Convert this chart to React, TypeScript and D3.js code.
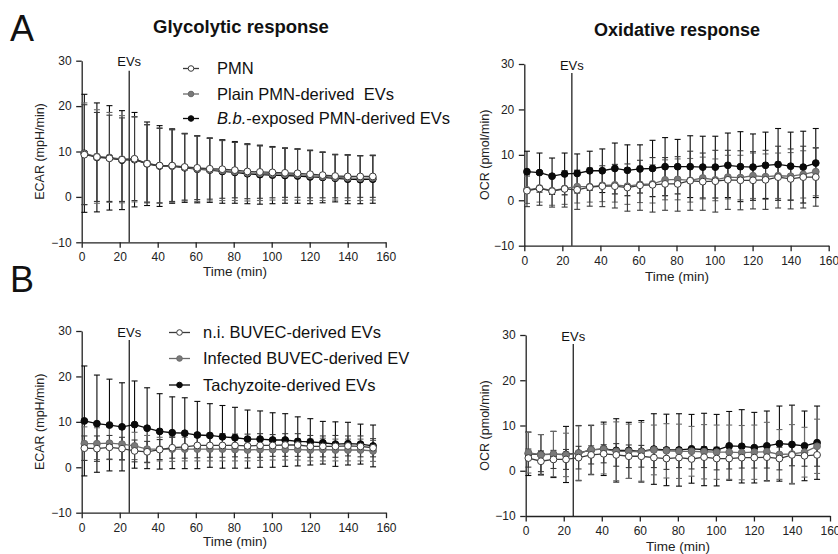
import React, { useRef, useEffect } from "react";
import * as d3 from "d3";

// measurement times (min), shared by all panels
const times = [1.4, 8.0, 14.6, 21.2, 27.8, 34.4, 41.0, 47.6, 54.2, 60.8, 67.4, 74.0, 80.6, 87.2, 93.8, 100.4, 107.0, 113.6, 120.2, 126.8, 133.4, 140.0, 146.6, 153.2];
const xTicks = [0, 20, 40, 60, 80, 100, 120, 140, 160];
const yTicks = [-10, 0, 10, 20, 30];
const evTime = 25;

// A - glycolytic (ECAR)
const ecarPmn = [9.3, 8.8, 8.5, 8.2, 8.4, 7.3, 6.9, 6.9, 6.6, 6.4, 6.2, 6.1, 5.9, 5.6, 5.5, 5.4, 5.3, 5.2, 5.0, 4.8, 4.6, 4.5, 4.5, 4.5];
const ecarPmnSd = [11.0, 9.8, 9.5, 9.2, 9.2, 8.6, 8.2, 7.9, 7.3, 7.0, 6.7, 6.4, 6.1, 6.0, 5.8, 5.6, 5.4, 5.3, 5.2, 5.0, 4.8, 4.7, 4.6, 4.6];
const ecarPlain = [9.5, 8.9, 8.7, 8.3, 8.3, 7.4, 6.9, 6.8, 6.5, 6.2, 6.0, 5.8, 5.6, 5.3, 5.2, 5.1, 5.0, 4.9, 4.7, 4.5, 4.3, 4.2, 4.1, 4.2];
const ecarPlainSd = [11.2, 10.3, 9.9, 9.6, 9.4, 8.5, 8.3, 8.0, 7.4, 7.2, 6.9, 6.6, 6.4, 6.2, 6.0, 5.8, 5.7, 5.6, 5.5, 5.3, 5.0, 5.0, 4.9, 4.9];
const ecarBb = [9.6, 8.7, 8.6, 8.1, 8.2, 7.3, 6.8, 6.8, 6.4, 6.1, 5.9, 5.6, 5.4, 5.1, 4.9, 4.8, 4.7, 4.6, 4.4, 4.3, 4.1, 3.9, 3.8, 3.9];
const ecarBbSd = [13.0, 12.0, 11.5, 10.9, 10.4, 9.2, 8.9, 8.2, 7.6, 7.4, 7.1, 7.0, 6.8, 6.6, 6.5, 6.3, 6.1, 6.0, 5.9, 5.6, 5.2, 5.4, 5.3, 5.3];

// A - oxidative (OCR)
const ocrPmn = [2.1, 2.6, 2.0, 2.5, 2.3, 2.9, 3.1, 3.1, 2.8, 3.3, 3.4, 3.6, 3.6, 4.3, 4.1, 4.2, 4.5, 4.4, 4.4, 4.5, 5.1, 4.7, 5.1, 5.1];
const ocrPmnSd = [3.5, 3.7, 3.5, 4.0, 4.3, 4.2, 4.5, 4.8, 5.2, 5.5, 6.0, 5.8, 6.0, 6.5, 6.3, 6.8, 6.5, 6.5, 6.3, 6.5, 6.8, 6.6, 6.8, 6.4];
const ocrPlain = [2.3, 2.7, 2.1, 2.6, 3.0, 3.0, 3.3, 3.4, 3.1, 3.5, 3.6, 4.5, 4.6, 4.4, 4.9, 4.5, 5.1, 5.0, 5.4, 5.2, 5.4, 5.3, 5.7, 6.3];
const ocrPlainSd = [3.0, 3.1, 3.2, 3.5, 3.6, 3.4, 3.6, 3.8, 4.0, 4.0, 4.2, 4.4, 4.5, 4.8, 4.6, 4.6, 4.8, 4.9, 5.0, 5.0, 5.0, 5.2, 5.2, 5.3];
const ocrBb = [6.3, 6.1, 5.3, 5.8, 5.9, 6.5, 6.5, 7.0, 6.6, 6.9, 7.0, 7.4, 7.4, 7.4, 7.3, 7.3, 7.7, 7.4, 7.3, 7.7, 7.9, 7.5, 7.3, 8.2];
const ocrBbSd = [4.5, 4.3, 4.0, 4.6, 4.3, 4.3, 4.8, 5.6, 5.6, 5.3, 6.2, 6.4, 6.0, 6.8, 6.8, 6.8, 7.1, 7.7, 7.3, 7.3, 7.9, 7.5, 7.9, 7.6];

// B - glycolytic (ECAR)
const ecarNi = [4.2, 4.1, 4.4, 4.1, 3.6, 3.4, 3.9, 4.3, 4.5, 4.8, 4.8, 4.8, 4.8, 4.7, 4.8, 4.8, 4.9, 4.9, 4.6, 4.6, 4.6, 4.7, 4.6, 4.3];
const ecarNiSd = [2.7, 2.8, 2.6, 2.5, 2.4, 2.3, 2.2, 2.3, 2.5, 2.7, 2.6, 2.6, 2.5, 2.6, 2.6, 2.4, 2.5, 2.5, 2.4, 2.3, 2.4, 2.2, 2.3, 2.0];
const ecarInf = [5.2, 5.2, 5.3, 5.1, 4.7, 4.0, 4.0, 4.0, 4.0, 4.0, 4.0, 4.0, 3.9, 3.8, 3.9, 3.9, 3.9, 3.9, 3.8, 3.9, 3.8, 3.8, 3.8, 3.6];
const ecarInfSd = [3.7, 3.5, 3.6, 3.4, 3.0, 3.0, 2.6, 2.7, 2.6, 2.6, 2.6, 2.6, 2.5, 2.4, 2.4, 2.3, 2.3, 2.3, 2.4, 2.5, 2.4, 2.4, 2.4, 2.3];
const ecarTachy = [10.2, 9.6, 9.3, 8.9, 9.4, 8.6, 7.9, 7.6, 7.5, 7.1, 7.0, 6.7, 6.5, 6.2, 6.2, 6.0, 6.0, 5.7, 5.6, 5.4, 5.1, 5.2, 5.1, 4.7];
const ecarTachySd = [12.1, 10.7, 10.1, 9.7, 9.6, 8.9, 8.3, 7.9, 7.8, 7.4, 7.0, 6.9, 6.7, 6.4, 6.2, 6.0, 5.8, 5.4, 5.1, 4.7, 4.9, 4.7, 4.4, 4.6];

// B - oxidative (OCR)
const ocrNi = [2.8, 2.1, 2.5, 2.5, 2.9, 3.5, 3.75, 3.5, 3.2, 3.2, 2.9, 2.7, 2.9, 2.6, 3.0, 2.7, 2.7, 2.9, 2.9, 3.0, 2.7, 3.5, 3.3, 3.5];
const ocrNiSd = [2.0, 2.3, 2.0, 2.2, 2.5, 2.0, 2.0, 2.5, 2.5, 2.4, 2.2, 2.4, 2.2, 2.2, 2.3, 2.5, 2.3, 2.3, 2.3, 2.4, 2.5, 2.4, 2.3, 2.5];
const ocrInf = [4.0, 3.5, 3.7, 3.5, 3.9, 4.6, 4.8, 4.3, 4.3, 4.2, 4.6, 4.4, 4.3, 4.3, 4.2, 4.1, 4.1, 4.0, 4.1, 4.2, 3.6, 3.7, 4.1, 5.4];
const ocrInfSd = [4.5, 4.5, 5.0, 4.8, 6.0, 5.5, 5.5, 6.5, 6.0, 6.5, 5.5, 6.0, 6.0, 5.5, 6.0, 6.0, 6.0, 6.0, 6.0, 6.5, 5.5, 6.5, 5.5, 6.0];
const ocrTachy = [3.75, 3.6, 3.6, 3.6, 3.9, 4.6, 4.85, 4.5, 4.5, 4.3, 4.8, 4.6, 4.6, 4.85, 4.7, 4.55, 5.5, 5.4, 5.1, 5.5, 6.0, 5.8, 5.5, 6.2];
const ocrTachySd = [4.8, 4.4, 5.1, 6.2, 6.1, 5.4, 5.9, 7.0, 6.2, 6.8, 7.8, 7.9, 8.0, 7.6, 8.0, 7.9, 7.6, 8.1, 7.8, 7.7, 8.3, 8.7, 7.7, 8.1];

const legendA = ["PMN", "Plain PMN-derived  EVs", "B.b.-exposed PMN-derived EVs"];
const legendB = ["n.i. BUVEC-derived EVs", "Infected BUVEC-derived EV", "Tachyzoite-derived EVs"];

const STYLES = [
  { fill: "#ffffff", stroke: "#3a3a3a", err: "#3a3a3a" },
  { fill: "#7a7a7a", stroke: "#6a6a6a", err: "#6a6a6a" },
  { fill: "#0a0a0a", stroke: "#0a0a0a", err: "#0a0a0a" },
];
const FONT = "Liberation Sans, Arial, sans-serif";

type Series = { mean: number[]; sd: number[] };
type PanelCfg = {
  left: number; right: number; top: number; bottom: number;
  ylabel: string; ylabelX: number;
  evTop: number; evTextY: number;
  xlabelX: number; xlabelY: number;
  series: Series[];
};

const panels: PanelCfg[] = [
  { left: 81.7, right: 385.7, top: 60.7, bottom: 242.3, ylabel: "ECAR (mpH/min)", ylabelX: 40, evTop: 70.7, evTextY: 66, xlabelX: 235, xlabelY: 275.5,
    series: [{ mean: ecarPmn, sd: ecarPmnSd }, { mean: ecarPlain, sd: ecarPlainSd }, { mean: ecarBb, sd: ecarBbSd }] },
  { left: 524.3, right: 828.7, top: 64, bottom: 245.7, ylabel: "OCR (pmol/min)", ylabelX: 485, evTop: 73, evTextY: 69.5, xlabelX: 677, xlabelY: 281,
    series: [{ mean: ocrPmn, sd: ocrPmnSd }, { mean: ocrPlain, sd: ocrPlainSd }, { mean: ocrBb, sd: ocrBbSd }] },
  { left: 81.7, right: 386, top: 331, bottom: 512.7, ylabel: "ECAR (mpH/min)", ylabelX: 40, evTop: 340, evTextY: 336.5, xlabelX: 235, xlabelY: 545.5,
    series: [{ mean: ecarNi, sd: ecarNiSd }, { mean: ecarInf, sd: ecarInfSd }, { mean: ecarTachy, sd: ecarTachySd }] },
  { left: 525.7, right: 830, top: 335, bottom: 516, ylabel: "OCR (pmol/min)", ylabelX: 485, evTop: 344, evTextY: 340.5, xlabelX: 678, xlabelY: 551,
    series: [{ mean: ocrNi, sd: ocrNiSd }, { mean: ocrInf, sd: ocrInfSd }, { mean: ocrTachy, sd: ocrTachySd }] },
];

function drawPanel(svg: any, p: PanelCfg) {
  const x = d3.scaleLinear().domain([0, 160]).range([p.left, p.right]);
  const y = d3.scaleLinear().domain([-10, 30]).range([p.bottom, p.top]);
  const g = svg.append("g");

  // axes
  const ya = g.append("g").attr("transform", `translate(${p.left},0)`)
    .call(d3.axisLeft(y).tickValues(yTicks).tickSize(5.5).tickPadding(4.5).tickSizeOuter(0));
  const xa = g.append("g").attr("transform", `translate(0,${p.bottom})`)
    .call(d3.axisBottom(x).tickValues(xTicks).tickSize(5.5).tickPadding(5).tickSizeOuter(0));
  [ya, xa].forEach((a) => {
    a.selectAll("path,line").attr("stroke", "#222").attr("stroke-width", 1.3);
    a.selectAll("text").attr("fill", "#222").attr("font-size", 12).attr("font-family", FONT);
  });

  // EVs marker
  g.append("line").attr("x1", x(evTime)).attr("x2", x(evTime)).attr("y1", p.evTop).attr("y2", p.bottom)
    .attr("stroke", "#111").attr("stroke-width", 1.2);
  g.append("text").attr("x", x(evTime)).attr("y", p.evTextY).attr("text-anchor", "middle")
    .attr("font-size", 13).attr("font-family", FONT).attr("fill", "#111").text("EVs");

  // axis labels
  g.append("text").attr("transform", `translate(${p.ylabelX},${(p.top + p.bottom) / 2}) rotate(-90)`)
    .attr("text-anchor", "middle").attr("dy", "0.35em").attr("font-size", 12.5).attr("font-family", FONT)
    .attr("fill", "#222").text(p.ylabel);
  g.append("text").attr("x", p.xlabelX).attr("y", p.xlabelY).attr("text-anchor", "middle")
    .attr("font-size", 13.5).attr("font-family", FONT).attr("fill", "#222").text("Time (min)");

  const order = [2, 1, 0];
  // error bars
  order.forEach((si) => {
    const s = p.series[si];
    const st = STYLES[si];
    const eg = g.append("g").attr("stroke", st.err).attr("stroke-width", 1.1);
    times.forEach((t, i) => {
      const cx = x(t), hi = y(s.mean[i] + s.sd[i]), lo = y(s.mean[i] - s.sd[i]);
      eg.append("line").attr("x1", cx).attr("x2", cx).attr("y1", hi).attr("y2", lo);
      eg.append("line").attr("x1", cx - 3).attr("x2", cx + 3).attr("y1", hi).attr("y2", hi);
      eg.append("line").attr("x1", cx - 3).attr("x2", cx + 3).attr("y1", lo).attr("y2", lo);
    });
  });
  // lines + points
  order.forEach((si) => {
    const s = p.series[si];
    const st = STYLES[si];
    const line = d3.line<number>().x((_, i) => x(times[i])).y((d) => y(d));
    g.append("path").attr("d", line(s.mean)).attr("fill", "none").attr("stroke", st.stroke).attr("stroke-width", 1.3);
    g.append("g").selectAll("circle").data(s.mean).join("circle")
      .attr("cx", (_, i) => x(times[i])).attr("cy", (d) => y(d)).attr("r", 3.4)
      .attr("fill", st.fill).attr("stroke", st.stroke).attr("stroke-width", 1);
  });
}

function drawLegend(svg: any, labels: string[], x0: number, x1: number, textX: number, rows: number[], italicPrefix: boolean) {
  labels.forEach((lab, i) => {
    const st = STYLES[i];
    const yy = rows[i];
    svg.append("line").attr("x1", x0).attr("x2", x1).attr("y1", yy).attr("y2", yy)
      .attr("stroke", st.stroke).attr("stroke-width", 1.3);
    svg.append("circle").attr("cx", (x0 + x1) / 2).attr("cy", yy).attr("r", 2.8)
      .attr("fill", st.fill).attr("stroke", st.stroke).attr("stroke-width", 1);
    const t = svg.append("text").attr("x", textX).attr("y", yy).attr("dy", "0.36em")
      .attr("font-size", 16.5).attr("font-family", FONT).attr("fill", "#111").attr("xml:space", "preserve");
    if (italicPrefix && lab.startsWith("B.b.")) {
      t.append("tspan").attr("font-style", "italic").text("B.b.");
      t.append("tspan").text(lab.slice(4));
    } else {
      t.text(lab);
    }
  });
}

export default function App() {
  const svgRef = useRef<SVGSVGElement>(null);

  useEffect(() => {
    const svg = d3.select(svgRef.current);
    svg.selectAll("*").remove();

    svg.append("rect").attr("width", 838).attr("height", 554).attr("fill", "#fff");

    // titles and panel letters
    svg.append("text").attr("x", 241).attr("y", 33).attr("text-anchor", "middle").attr("font-weight", "bold")
      .attr("font-size", 18.5).attr("font-family", FONT).attr("fill", "#111").text("Glycolytic response");
    svg.append("text").attr("x", 677).attr("y", 36).attr("text-anchor", "middle").attr("font-weight", "bold")
      .attr("font-size", 18).attr("font-family", FONT).attr("fill", "#111").text("Oxidative response");
    svg.append("text").attr("x", 10).attr("y", 41).attr("font-size", 36).attr("font-family", FONT).attr("fill", "#111").text("A");
    svg.append("text").attr("x", 10).attr("y", 292).attr("font-size", 36).attr("font-family", FONT).attr("fill", "#111").text("B");

    panels.forEach((p) => drawPanel(svg, p));

    drawLegend(svg, legendA, 183, 199, 217, [68.5, 94, 118.5], true);
    drawLegend(svg, legendB, 169, 190, 203, [332.5, 358.5, 385], false);
  }, []);

  return (
    <svg ref={svgRef} width={838} height={554} style={{ position: "absolute", left: 0, top: 0 }} />
  );
}
